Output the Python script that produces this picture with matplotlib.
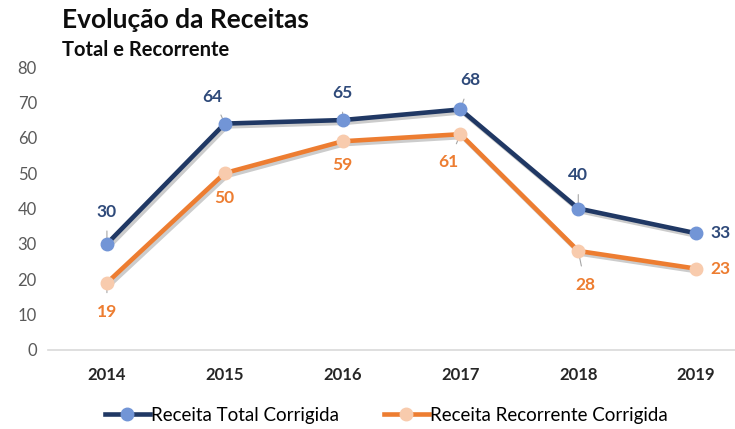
import matplotlib.pyplot as plt
import matplotlib.patheffects as pe
from matplotlib.lines import Line2D

plt.rcParams['font.family'] = ['Lato', 'DejaVu Sans']

anos = ['2014', '2015', '2016', '2017', '2018', '2019']
receita_total = [30, 64, 65, 68, 40, 33]
receita_recorrente = [19, 50, 59, 61, 28, 23]

# label offsets in pixels (dx, dy)
off_total = [(0, 32), (-12, 27), (0, 27), (10, 29), (0, 33), (14, 0)]
off_rec = [(0, -29), (0, -25), (0, -24), (-12, -28), (7, -34), (14, 0)]

navy = '#203864'
navy_mk = '#7295D6'
orange = '#ED7D31'
orange_mk = '#F8CBAD'

fig = plt.figure(figsize=(7.35, 4.29), dpi=100)
ax = fig.add_axes([48/735, 1 - 350/429, 1 - 48/735, (350 - 67)/429])

x = list(range(len(anos)))
shadow = [pe.SimpleLineShadow(offset=(1.5, -2), alpha=0.2, shadow_color='black'), pe.Normal()]
ax.plot(x, receita_total, color=navy, lw=3.3, path_effects=shadow, zorder=3)
ax.plot(x, receita_total, ls='none', marker='o', ms=9, mfc=navy_mk, mec=navy_mk, zorder=4)
ax.plot(x, receita_recorrente, color=orange, lw=3.3, path_effects=shadow, zorder=3)
ax.plot(x, receita_recorrente, ls='none', marker='o', ms=9, mfc=orange_mk, mec=orange_mk, zorder=4)

for i, v in enumerate(receita_total):
    ax.annotate(str(v), (i, v), xytext=off_total[i], textcoords='offset pixels',
                ha='left' if i == 5 else 'center', va='center', fontsize=12.5,
                fontweight='bold', color='#2F4A7A',
                arrowprops=None if i == 5 else dict(arrowstyle='-', color='#A6A6A6', lw=0.8,
                                                    shrinkA=6, shrinkB=3))
for i, v in enumerate(receita_recorrente):
    ax.annotate(str(v), (i, v), xytext=off_rec[i], textcoords='offset pixels',
                ha='left' if i == 5 else 'center', va='center', fontsize=12.5,
                fontweight='bold', color=orange,
                arrowprops=None if i == 5 else dict(arrowstyle='-', color='#A6A6A6', lw=0.8,
                                                    shrinkA=6, shrinkB=3))

ax.set_xlim(-0.5, 5.33)
ax.set_ylim(0, 80)
ax.set_yticks(range(0, 81, 10))
ax.set_xticks(x)
ax.set_xticklabels(anos, fontweight='bold', fontsize=12, color='#262626')
ax.tick_params(axis='y', length=0, labelsize=12, labelcolor='#595959', pad=8)
ax.tick_params(axis='x', length=0, pad=12)
for s in ['top', 'right', 'left']:
    ax.spines[s].set_visible(False)
ax.spines['bottom'].set_color('#D9D9D9')
ax.spines['bottom'].set_linewidth(1.2)

fig.text(62/735, 1 - 20/429, 'Evolução da Receitas', fontsize=19, fontweight='bold',
         color='#0D0D0D', va='center')
fig.text(62/735, 1 - 50/429, 'Total e Recorrente', fontsize=14.5, fontweight='bold',
         color='#0D0D0D', va='center')

handles = [
    Line2D([], [], color=navy, lw=3.3, marker='o', ms=9, mfc=navy_mk, mec=navy_mk),
    Line2D([], [], color=orange, lw=3.3, marker='o', ms=9, mfc=orange_mk, mec=orange_mk),
]
fig.legend(handles, ['Receita Total Corrigida', 'Receita Recorrente Corrigida'],
           loc='center', bbox_to_anchor=(386/735, 1 - 415/429), ncol=2, frameon=False,
           fontsize=13.5, handlelength=2.4, handletextpad=0.05, columnspacing=2.4)

fig.savefig('out.png', dpi=100)
